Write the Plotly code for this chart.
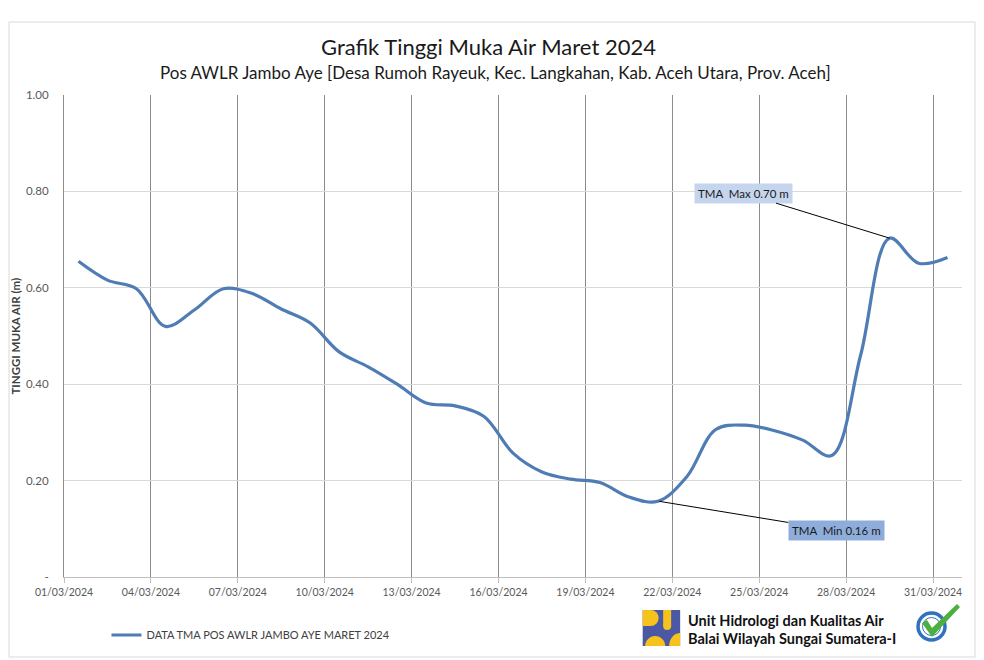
import plotly.graph_objects as go
import numpy as np

# ---------------- data ----------------
dates = ["01/03/2024", "04/03/2024", "07/03/2024", "10/03/2024", "13/03/2024",
         "16/03/2024", "19/03/2024", "22/03/2024", "25/03/2024", "28/03/2024", "31/03/2024"]
day_index = list(range(31))  # 1..31 March (category index)
tma = [0.655, 0.616, 0.598, 0.520, 0.554, 0.598, 0.588, 0.556, 0.527, 0.467,
       0.436, 0.400, 0.361, 0.355, 0.333, 0.257, 0.218, 0.203, 0.196, 0.166,
       0.157, 0.208, 0.306, 0.315, 0.304, 0.284, 0.252, 0.460, 0.703, 0.651, 0.663]
y_ticks = [0, 0.2, 0.4, 0.6, 0.8, 1.0]
y_ticktext = ["-", "0.20", "0.40", "0.60", "0.80", "1.00"]
series_name = "DATA TMA POS AWLR JAMBO AYE MARET 2024"

# ---------------- geometry helpers (page pixel -> paper) ----------------
OFF = 8  # page body margin
L, R, T, B = 63.5, 962.0, 95.0, 577.0
W, H = 984, 660


def px(x):
    return (x - L) / (R - L)


def py(y):
    return (B - y) / (B - T)


xcat = [i + 0.5 for i in day_index]

fig = go.Figure()
fig.add_trace(go.Scatter(
    x=xcat, y=tma, mode="lines", name=series_name,
    line=dict(color="#4f7cb5", width=3.2, shape="spline", smoothing=1.0),
    hoverinfo="y"))

font_main = "Lato, 'Open Sans', sans-serif"
axis_col = "#595959"

fig.update_layout(
    width=W, height=H,
    margin=dict(l=L - OFF, r=W - (R - OFF), t=T - OFF, b=H - (B - OFF), autoexpand=False),
    paper_bgcolor="white", plot_bgcolor="white",
    font=dict(family=font_main, color=axis_col),
    showlegend=True,
    legend=dict(x=px(106), y=py(635), xanchor="left", yanchor="middle",
                font=dict(size=11, color="#404040"), bgcolor="rgba(0,0,0,0)",
                itemwidth=30),
    xaxis=dict(range=[0, 31], tickmode="array", tickvals=[3 * i for i in range(11)],
               ticktext=dates, showgrid=True, gridcolor="#8c8c8c", gridwidth=1,
               showline=True, linecolor="#bfbfbf", linewidth=1,
               ticks="outside", ticklen=5, tickcolor="#bfbfbf",
               tickfont=dict(size=10.5, color=axis_col), zeroline=False, fixedrange=True,
               automargin=False),
    yaxis=dict(range=[0, 1.0], tickmode="array", tickvals=y_ticks, ticktext=y_ticktext,
               showgrid=True, gridcolor="#d9d9d9", gridwidth=1,
               showline=True, linecolor="#8c8c8c", linewidth=1,
               tickfont=dict(size=11.5, color=axis_col), zeroline=False, ticks="",
               ticklabelstandoff=12, automargin=False, fixedrange=True),
)

shapes = []
# outer chart frame
shapes.append(dict(type="rect", xref="paper", yref="paper",
                   x0=px(OFF + 0.5), x1=px(975), y0=py(657), y1=py(22),
                   line=dict(color="#d9d9d9", width=1), fillcolor="rgba(0,0,0,0)", layer="below"))

# ---- PU logo (decorative) ----
blue_logo = "#4a58a6"
yel = "#f6c21b"


def rect(x0, x1, y0, y1, color):
    return dict(type="rect", xref="paper", yref="paper", x0=px(x0), x1=px(x1),
                y0=py(y1), y1=py(y0), fillcolor=color, line=dict(width=0), layer="above")


def circ(x0, x1, y0, y1, color):
    return dict(type="circle", xref="paper", yref="paper", x0=px(x0), x1=px(x1),
                y0=py(y1), y1=py(y0), fillcolor=color, line=dict(width=0), layer="above")


def poly(points, color, line=None):
    d = "M " + " L ".join(f"{px(a):.5f},{py(b):.5f}" for a, b in points) + " Z"
    return dict(type="path", xref="paper", yref="paper", path=d, fillcolor=color,
                line=line or dict(width=0), layer="above")


shapes.append(rect(642.5, 680, 610, 646, blue_logo))
shapes.append(rect(642.5, 650, 610, 626, yel))
shapes.append(circ(642.5, 658.5, 610, 626, yel))
shapes.append(rect(663, 671, 610, 626, yel))
shapes.append(circ(663, 671, 622, 630, yel))
th = np.linspace(np.pi, 2 * np.pi, 30)
shapes.append(poly([(655 + 10 * np.cos(t), 646 + 10 * np.sin(t)) for t in th], yel))
th2 = np.linspace(np.pi, 1.5 * np.pi, 20)
shapes.append(poly([(680, 646)] + [(680 + 11 * np.cos(t), 646 + 13 * np.sin(t)) for t in th2], yel))

# ---- ISO certified logo (decorative) ----
shapes.append(dict(type="circle", xref="paper", yref="paper", x0=px(918), x1=px(945),
                   y0=py(640), y1=py(613), fillcolor="white",
                   line=dict(color="#2f72c0", width=3.5), layer="above"))
shapes.append(dict(type="circle", xref="paper", yref="paper", x0=px(922.5), x1=px(940.5),
                   y0=py(635.5), y1=py(617.5), fillcolor="rgba(0,0,0,0)",
                   line=dict(color="#2f72c0", width=1), layer="above"))
chk = [(922, 623), (927, 620), (932, 628), (957, 604), (960, 607), (932, 637)]
shapes.append(poly(chk, "#4caf3f"))

fig.update_layout(shapes=shapes)

annotations = [
    dict(text="Grafik Tinggi Muka Air Maret 2024", xref="paper", yref="paper",
         x=px(488), y=py(47), showarrow=False, xanchor="center", yanchor="middle",
         font=dict(size=22, color="#1a1a1a")),
    dict(text="Pos AWLR Jambo Aye [Desa Rumoh Rayeuk, Kec. Langkahan, Kab. Aceh Utara, Prov. Aceh]",
         xref="paper", yref="paper", x=px(495), y=py(73), showarrow=False,
         xanchor="center", yanchor="middle", font=dict(size=17, color="#1a1a1a")),
    dict(text="<b>TINGGI MUKA AIR (m)</b>", xref="paper", yref="paper",
         x=px(14), y=py(336), textangle=-90, showarrow=False,
         xanchor="center", yanchor="middle", font=dict(size=11.5, color="#404040")),
    # max label
    dict(text="TMA  Max 0.70 m", x=28.5, y=0.703, xref="x", yref="y",
         ax=-146, ay=-45,
         showarrow=True, arrowhead=0, arrowwidth=1, arrowcolor="#000000", standoff=0,
         bgcolor="#c5d5ed", borderpad=3, font=dict(size=11.5, color="#1a1a1a")),
    dict(text="TMA  Min 0.16 m", x=20.55, y=0.157, xref="x", yref="y",
         ax=177, ay=29,
         showarrow=True, arrowhead=0, arrowwidth=1, arrowcolor="#000000", standoff=0,
         bgcolor="#8fadda", borderpad=3, font=dict(size=11.5, color="#1a1a1a")),
    dict(text="<b>Unit Hidrologi dan Kualitas Air</b>", xref="paper", yref="paper",
         x=px(686), y=py(620), xanchor="left", yanchor="middle", showarrow=False,
         font=dict(size=14.5, color="#111111")),
    dict(text="<b>Balai Wilayah Sungai Sumatera-I</b>", xref="paper", yref="paper",
         x=px(686), y=py(638), xanchor="left", yanchor="middle", showarrow=False,
         font=dict(size=14.5, color="#111111")),
]
fig.update_layout(annotations=annotations)

fig.write_html("out.html")
